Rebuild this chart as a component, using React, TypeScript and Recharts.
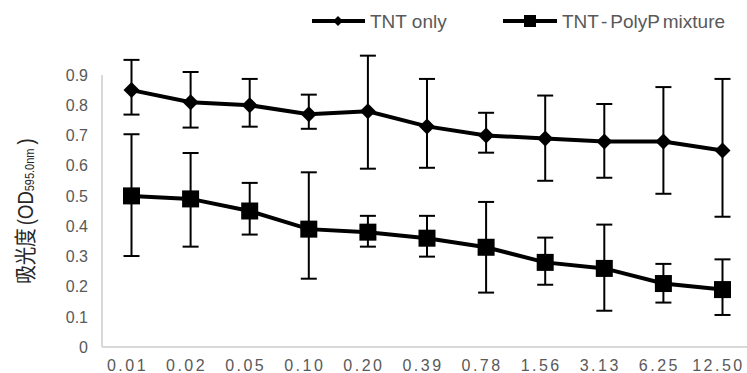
import React from "react";
import { LineChart, Line, XAxis, YAxis, ErrorBar } from "recharts";

const concentrations = ["0.01", "0.02", "0.05", "0.10", "0.20", "0.39", "0.78", "1.56", "3.13", "6.25", "12.50"];

const tntOnly = [0.85, 0.81, 0.8, 0.77, 0.78, 0.73, 0.7, 0.69, 0.68, 0.68, 0.65];
const tntOnlyHigh = [0.95, 0.91, 0.887, 0.835, 0.964, 0.887, 0.775, 0.832, 0.804, 0.86, 0.887];
const tntOnlyLow = [0.769, 0.726, 0.729, 0.722, 0.59, 0.593, 0.643, 0.55, 0.56, 0.507, 0.431];

const mixture = [0.5, 0.49, 0.45, 0.39, 0.38, 0.36, 0.33, 0.28, 0.26, 0.21, 0.19];
const mixtureHigh = [0.704, 0.642, 0.543, 0.578, 0.434, 0.434, 0.48, 0.362, 0.405, 0.275, 0.29];
const mixtureLow = [0.301, 0.332, 0.372, 0.226, 0.332, 0.299, 0.18, 0.206, 0.12, 0.147, 0.106];

const yTicks = [0, 0.1, 0.2, 0.3, 0.4, 0.5, 0.6, 0.7, 0.8, 0.9];
const seriesNames = ["TNT only", "TNT-PolyP mixture"];

const data = concentrations.map((c, i) => ({
  conc: c,
  tnt: tntOnly[i],
  tntErr: [tntOnly[i] - tntOnlyLow[i], tntOnlyHigh[i] - tntOnly[i]],
  mix: mixture[i],
  mixErr: [mixture[i] - mixtureLow[i], mixtureHigh[i] - mixture[i]],
}));

const FONT = "'Liberation Sans', Arial, 'Noto Sans CJK JP', sans-serif";
const TICK_COLOR = "#595959";

const Diamond = (props: any) => {
  const { cx, cy, index } = props;
  const r = 8;
  return (
    <polygon
      key={`d-${index}`}
      points={`${cx},${cy - r} ${cx + r},${cy} ${cx},${cy + r} ${cx - r},${cy}`}
      fill="#000"
    />
  );
};

const Square = (props: any) => {
  const { cx, cy, index } = props;
  const s = 17;
  return <rect key={`s-${index}`} x={cx - s / 2} y={cy - s / 2} width={s} height={s} fill="#000" />;
};

const XTick = (props: any) => {
  const { x, y, payload } = props;
  return (
    <text x={x - 4} y={y + 24} textAnchor="middle" fill={TICK_COLOR} fontSize={16} letterSpacing={2.5} fontFamily={FONT}>
      {payload.value}
    </text>
  );
};

const YTick = (props: any) => {
  const { x, y, payload } = props;
  return (
    <text x={x - 14} y={y} dy="0.36em" textAnchor="end" fill={TICK_COLOR} fontSize={16} fontFamily={FONT}>
      {payload.value}
    </text>
  );
};

// glyphs in the original are a bit stretched, hence the scale
const YLabel = () => (
  <text
    x={0}
    y={0}
    transform="translate(25 211) rotate(-90) scale(1 1.18)"
    textAnchor="middle"
    dominantBaseline="central"
    fill="#262626"
    fontSize={18.5}
    fontFamily={FONT}
  >
    吸光度
    <tspan dx={3}>(OD</tspan>
    <tspan fontSize={11} dy={4}>595.0nm</tspan>
    <tspan dy={-4} dx={4}>)</tspan>
  </text>
);

const LegendBox = () => (
  <svg width={747} height={45} style={{ position: "absolute", left: 0, top: 0 }}>
    <g fontFamily={FONT} fontSize={19} fill={TICK_COLOR}>
      <line x1={312} x2={365} y1={21} y2={21} stroke="#000" strokeWidth={4} />
      <polygon points="338,16 343,21 338,26 333,21" fill="#000" />
      <text x={370} y={28}>{seriesNames[0]}</text>
      <line x1={503} x2={557} y1={21} y2={21} stroke="#000" strokeWidth={4} />
      <rect x={524} y={15} width={12} height={12} fill="#000" />
      <text x={562} y={28} wordSpacing={-2}>
        {seriesNames[1].split("-")[0]}
        <tspan dx={3}>-</tspan>
        <tspan dx={3}>{seriesNames[1].split("-")[1]}</tspan>
      </text>
    </g>
  </svg>
);

export default function App() {
  return (
    <div style={{ position: "absolute", left: 0, top: 0, width: 747, height: 373, overflow: "hidden", background: "#fff" }}>
      <LineChart width={752} height={373} data={data} margin={{ top: 75, right: 0, bottom: 0, left: 0 }}>
        <XAxis
          dataKey="conc"
          height={26}
          padding={{ left: 29.5, right: 29.5 }}
          tickLine={false}
          tickSize={0}
          tickMargin={0}
          axisLine={{ stroke: "#d9d9d9", strokeWidth: 2 }}
          tick={<XTick />}
          interval={0}
        />
        <YAxis
          width={102}
          domain={[0, 0.9]}
          allowDataOverflow
          ticks={yTicks}
          tickLine={false}
          tickSize={0}
          tickMargin={0}
          axisLine={{ stroke: "#d9d9d9", strokeWidth: 2 }}
          tick={<YTick />}
          interval={0}
        />
        <Line
          dataKey="tnt"
          stroke="#000"
          strokeWidth={4}
          dot={Diamond}
          activeDot={false}
          isAnimationActive={false}
        >
          <ErrorBar dataKey="tntErr" direction="y" width={8} stroke="#000" strokeWidth={2} />
        </Line>
        <Line
          dataKey="mix"
          stroke="#000"
          strokeWidth={4}
          dot={Square}
          activeDot={false}
          isAnimationActive={false}
        >
          <ErrorBar dataKey="mixErr" direction="y" width={8} stroke="#000" strokeWidth={2} />
        </Line>
      </LineChart>
      <svg width={60} height={373} style={{ position: "absolute", left: 0, top: 0 }}>
        <YLabel />
      </svg>
      <LegendBox />
    </div>
  );
}
